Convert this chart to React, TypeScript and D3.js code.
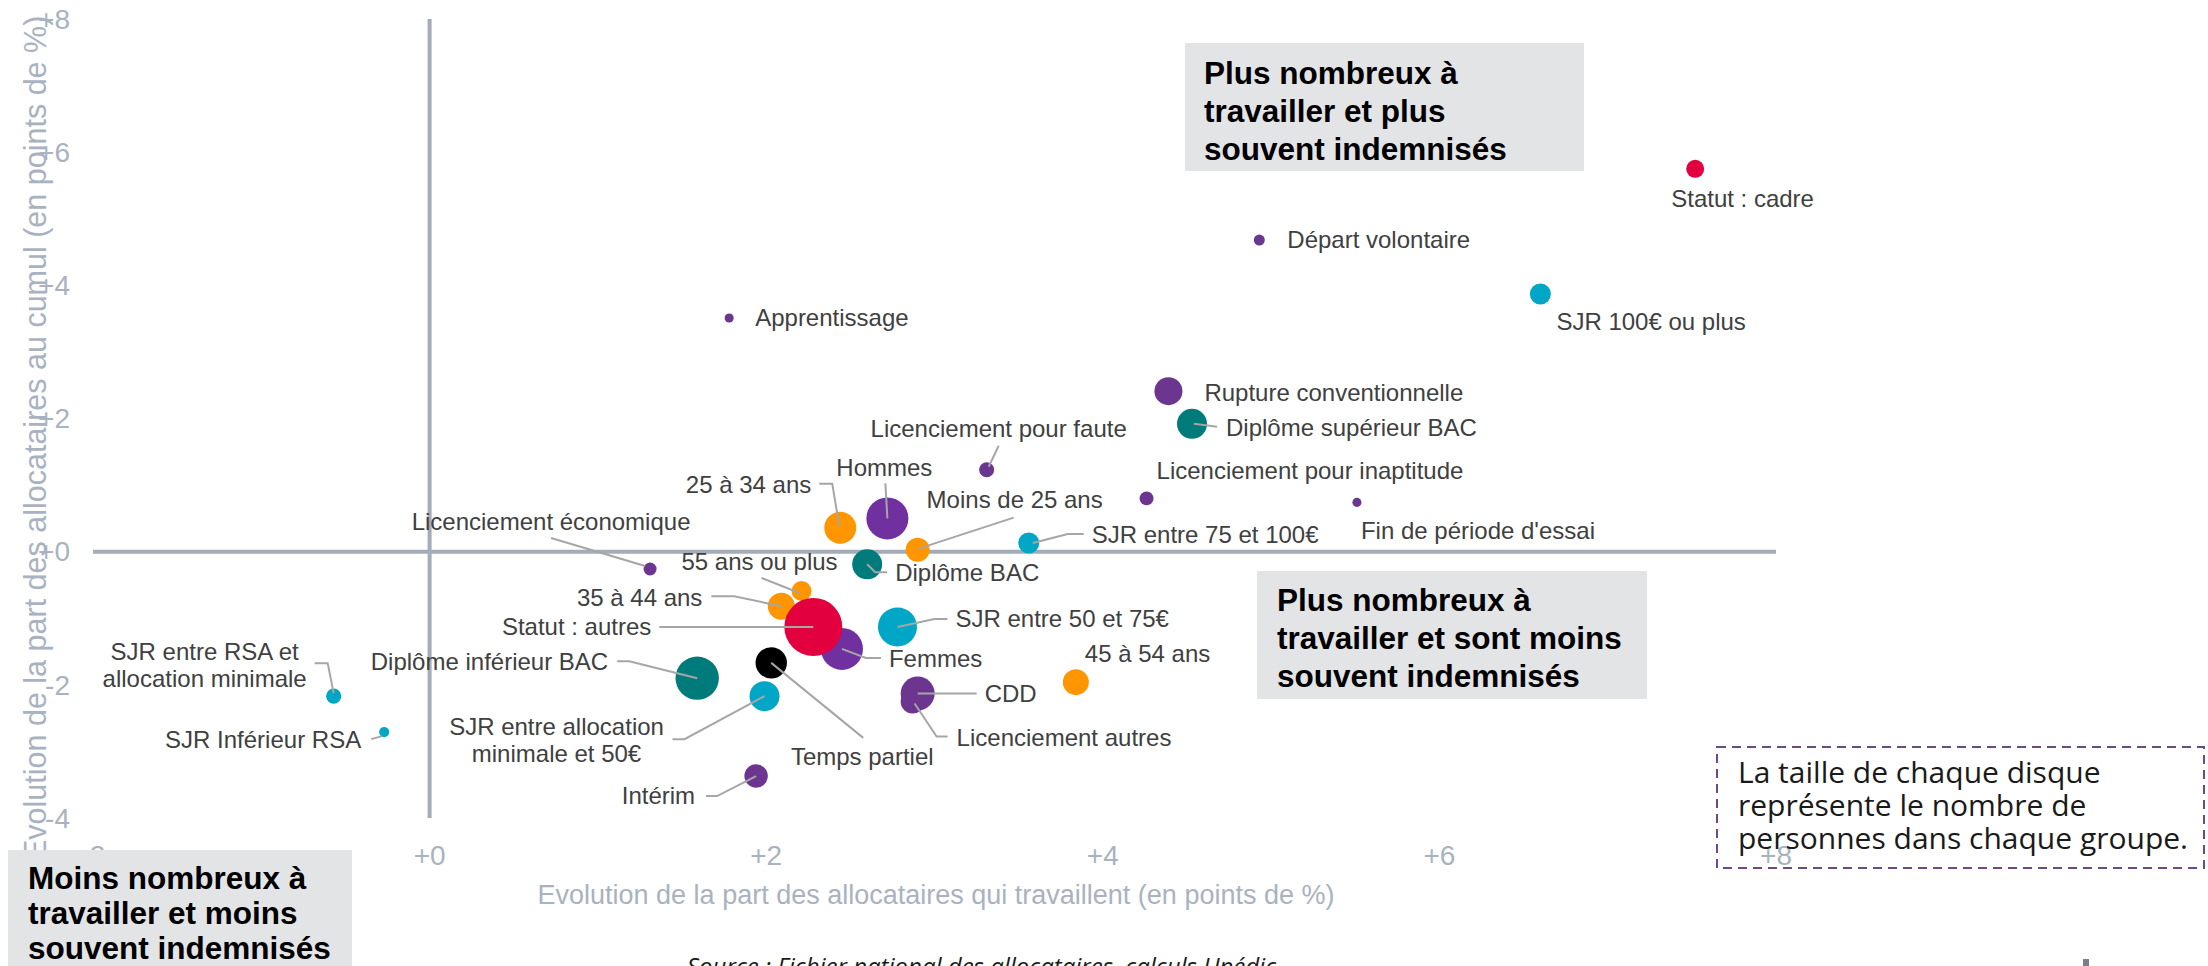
import React from "react";
import * as d3 from "d3";

// ---- Data ----
const categories = [
  "Statut : cadre",
  "Départ volontaire",
  "SJR 100€ ou plus",
  "Apprentissage",
  "Rupture conventionnelle",
  "Diplôme supérieur BAC",
  "Licenciement pour faute",
  "Licenciement pour inaptitude",
  "Fin de période d'essai",
  "Hommes",
  "25 à 34 ans",
  "Moins de 25 ans",
  "SJR entre 75 et 100€",
  "Diplôme BAC",
  "Licenciement économique",
  "55 ans ou plus",
  "35 à 44 ans",
  "Femmes",
  "Statut : autres",
  "SJR entre 50 et 75€",
  "45 à 54 ans",
  "Licenciement autres",
  "CDD",
  "Diplôme inférieur BAC",
  "Temps partiel",
  "SJR entre allocation minimale et 50€",
  "SJR entre RSA et allocation minimale",
  "SJR Inférieur RSA",
  "Intérim",
];

// Evolution de la part des allocataires qui travaillent (points de %)
const evolTravail = [
  7.52, 4.93, 6.6, 1.78, 4.39, 4.53, 3.31, 4.26, 5.51, 2.72, 2.44, 2.9, 3.56, 2.6,
  1.31, 2.21, 2.09, 2.45, 2.28, 2.78, 3.84, 2.87, 2.9, 1.59, 2.03, 1.99, -0.57, -0.27, 1.94,
];

// Evolution de la part des allocataires au cumul (points de %)
const evolCumul = [
  5.75, 4.68, 3.87, 3.51, 2.41, 1.92, 1.23, 0.8, 0.74, 0.5, 0.36, 0.03, 0.13, -0.19,
  -0.26, -0.59, -0.82, -1.46, -1.13, -1.13, -1.96, -2.25, -2.13, -1.9, -1.67, -2.17, -2.17, -2.71, -3.37,
];

// Relative size of each group (disc area)
const effectifs = [
  9.0, 3.4, 12.3, 2.3, 21.8, 25, 6.3, 5.4, 2.3, 49, 28.4, 16, 12.3, 25,
  4.7, 11.1, 20.3, 49, 93.4, 42.3, 18.8, 16, 32.1, 52.3, 27.4, 25, 6.3, 2.8, 15.2,
];

const groupes = [
  "Statut", "Motif", "SJR", "Motif", "Motif", "Diplôme", "Motif", "Motif", "Motif", "Sexe",
  "Age", "Age", "SJR", "Diplôme", "Motif", "Age", "Age", "Sexe", "Statut", "SJR",
  "Age", "Motif", "Motif", "Diplôme", "Temps", "SJR", "SJR", "SJR", "Motif",
];

const xTicks = [-2, 0, 2, 4, 6, 8];
const yTicks = [-4, -2, 0, 2, 4, 6, 8];

const xTitle = "Evolution de la part des allocataires qui travaillent (en points de %)";
const yTitle = "Evolution de la part des allocataires au cumul (en points de %)";
const quadrantTopRight = ["Plus nombreux à", "travailler et plus", "souvent indemnisés"];
const quadrantBottomRight = ["Plus nombreux à", "travailler et sont moins", "souvent indemnisés"];
const quadrantBottomLeft = ["Moins nombreux à", "travailler et moins", "souvent indemnisés"];
const noteLines = ["La taille de chaque disque", "représente le nombre de", "personnes dans chaque groupe."];
const sourceText = "Source : Fichier national des allocataires, calculs Unédic";

// ---- Styles ----
const groupColors: Record<string, string> = {
  Statut: "#e3003f",
  Motif: "#6b3590",
  Sexe: "#7030a0",
  Age: "#ff9600",
  "Diplôme": "#007b7c",
  SJR: "#00a6c6",
  Temps: "#000000",
};

type LabelLayout = {
  anchor: "start" | "middle" | "end";
  dx: number;
  dy: number;
  lines?: string[];
  leader?: [number, number][];
};

const labelLayout: Record<string, LabelLayout> = {
  "Statut : cadre": { anchor: "start", dx: -24, dy: 30 },
  "Départ volontaire": { anchor: "start", dx: 28, dy: 0 },
  "SJR 100€ ou plus": { anchor: "start", dx: 16, dy: 28 },
  Apprentissage: { anchor: "start", dx: 26, dy: 0 },
  "Rupture conventionnelle": { anchor: "start", dx: 36, dy: 1 },
  "Diplôme supérieur BAC": { anchor: "start", dx: 34, dy: 4, leader: [[2, 0], [25, 3]] },
  "Licenciement pour faute": { anchor: "middle", dx: 12, dy: -41, leader: [[12, -24], [2, -3]] },
  "Licenciement pour inaptitude": { anchor: "start", dx: 10, dy: -28 },
  "Fin de période d'essai": { anchor: "start", dx: 4, dy: 28 },
  Hommes: { anchor: "middle", dx: -3, dy: -51, leader: [[-2, -35], [0, 0]] },
  "25 à 34 ans": { anchor: "end", dx: -29, dy: -43, leader: [[-21, -44], [-8, -44], [-1, -2]] },
  "Moins de 25 ans": { anchor: "middle", dx: 97, dy: -50, leader: [[96, -32], [1, -1]] },
  "SJR entre 75 et 100€": { anchor: "start", dx: 63, dy: -8, leader: [[4, 0], [39, -9], [55, -9]] },
  "Diplôme BAC": { anchor: "start", dx: 28, dy: 8, leader: [[0, 0], [8, 8], [20, 8]] },
  "Licenciement économique": { anchor: "middle", dx: -99, dy: -47, leader: [[-99, -31], [-5, -3]] },
  "55 ans ou plus": { anchor: "middle", dx: -42, dy: -29, leader: [[-40, -13], [-2, 2]] },
  "35 à 44 ans": { anchor: "end", dx: -79, dy: -9, leader: [[-70, -10], [-47, -10], [0, 0]] },
  "Statut : autres": { anchor: "end", dx: -162, dy: 0, leader: [[-154, 0], [0, 0]] },
  "SJR entre 50 et 75€": { anchor: "start", dx: 58, dy: -8, leader: [[0, 0], [37, -8], [50, -8]] },
  Femmes: { anchor: "start", dx: 47, dy: 10, leader: [[0, 0], [24, 9], [39, 9]] },
  "45 à 54 ans": { anchor: "start", dx: 9, dy: -29 },
  CDD: { anchor: "start", dx: 67, dy: 0, leader: [[0, 0], [59, 0]] },
  "Licenciement autres": { anchor: "start", dx: 44, dy: 36, leader: [[2, 2], [24, 35], [35, 35]] },
  "Diplôme inférieur BAC": { anchor: "end", dx: -89, dy: -17, leader: [[-80, -17], [-68, -17], [0, 0]] },
  "Temps partiel": { anchor: "middle", dx: 91, dy: 94, leader: [[0, 0], [92, 75]] },
  "SJR entre allocation minimale et 50€": {
    anchor: "middle", dx: -208, dy: 30, lines: ["SJR entre allocation", "minimale et 50€"],
    leader: [[-92, 43], [-80, 43], [0, 0]],
  },
  "SJR entre RSA et allocation minimale": {
    anchor: "middle", dx: -129, dy: -45, lines: ["SJR entre RSA et", "allocation minimale"],
    leader: [[-19, -33], [-6, -33], [0, -3]],
  },
  "SJR Inférieur RSA": { anchor: "end", dx: -23, dy: 7, leader: [[-13, 7], [-2, 4]] },
  "Intérim": { anchor: "end", dx: -61, dy: 20, leader: [[-50, 20], [-39, 20], [0, 0]] },
};

const W = 2208;
const H = 966;
const AXIS = "#a3acb9";
const TICK = "#a9b2c0";
const LEADER = "#a6a6a6";
const LABEL = "#404040";
const ARIAL = "'Liberation Sans', Arial, sans-serif";
const NOTE_FONT = "'Open Sans', 'Noto Sans', sans-serif";

const fmt = (v: number) => (v >= 0 ? "+" + v : String(v));

export default function App() {
  const x = d3.scaleLinear().domain([-2, 8]).range([93, 1776]);
  const y = d3.scaleLinear().domain([-4, 8]).range([818, 19]);
  const r = d3.scaleSqrt().domain([0, 100]).range([0, 30]);
  const line = d3.line();

  const points = categories.map((c, i) => ({
    name: c,
    cx: x(evolTravail[i]),
    cy: y(evolCumul[i]),
    r: r(effectifs[i]),
    color: groupColors[groupes[i]],
  }));

  return (
    <svg
      width={W}
      height={H}
      style={{ position: "absolute", left: 0, top: 0, background: "#fff" }}
      fontFamily={ARIAL}
    >
      <rect x={0} y={0} width={W} height={H} fill="#fff" />

      {/* Y axis title */}
      <text
        transform={`translate(46, 860) rotate(-90)`}
        fontSize={30.5}
        fill={TICK}
        textAnchor="start"
      >
        {yTitle}
      </text>

      {/* Y tick labels */}
      {yTicks.map((t) => (
        <text key={"y" + t} x={70} y={y(t)} dy="0.35em" textAnchor="end" fontSize={28} fill={TICK}>
          {fmt(t)}
        </text>
      ))}
      {/* X tick labels */}
      {xTicks.map((t) => (
        <text key={"x" + t} x={x(t)} y={865} textAnchor="middle" fontSize={28} fill={TICK}>
          {fmt(t)}
        </text>
      ))}
      {/* X axis title */}
      <text x={936} y={904} textAnchor="middle" fontSize={27} fill={TICK}>
        {xTitle}
      </text>

      {/* Zero lines */}
      <line x1={x(-2)} x2={x(8)} y1={y(0)} y2={y(0)} stroke={AXIS} strokeWidth={4} />
      <line x1={x(0)} x2={x(0)} y1={y(8)} y2={y(-4)} stroke={AXIS} strokeWidth={4} />

      {/* Quadrant boxes */}
      <rect x={1185} y={43} width={399} height={128} fill="#e3e4e6" />
      {quadrantTopRight.map((l, i) => (
        <text key={"q1" + i} x={1204} y={84 + i * 38} fontSize={31.5} fontWeight="bold" fill="#000">
          {l}
        </text>
      ))}
      <rect x={1257} y={571} width={390} height={128} fill="#e3e4e6" />
      {quadrantBottomRight.map((l, i) => (
        <text key={"q2" + i} x={1277} y={611 + i * 38} fontSize={31.5} fontWeight="bold" fill="#000">
          {l}
        </text>
      ))}

      {/* Discs */}
      {points.map((p) => (
        <circle key={p.name} cx={p.cx} cy={p.cy} r={p.r} fill={p.color} />
      ))}

      {/* Leader lines */}
      {points.map((p) => {
        const L = labelLayout[p.name];
        if (!L || !L.leader) return null;
        const pts = L.leader.map(([dx, dy]) => [p.cx + dx, p.cy + dy] as [number, number]);
        return <path key={"l" + p.name} d={line(pts) || ""} fill="none" stroke={LEADER} strokeWidth={2} />;
      })}

      {/* Labels */}
      {points.map((p) => {
        const L = labelLayout[p.name];
        const lines = L.lines || [p.name];
        return (
          <text
            key={"t" + p.name}
            x={p.cx + L.dx}
            y={p.cy + L.dy}
            textAnchor={L.anchor}
            fontSize={24}
            fill={LABEL}
          >
            {lines.map((ln, i) => (
              <tspan key={i} x={p.cx + L.dx} dy={i === 0 ? "0.35em" : 27}>
                {ln}
              </tspan>
            ))}
          </text>
        );
      })}

      {/* Bottom-left quadrant box (over the -2 tick) */}
      <rect x={8} y={850} width={344} height={130} fill="#e3e4e6" />
      {quadrantBottomLeft.map((l, i) => (
        <text key={"q3" + i} x={28} y={889 + i * 35} fontSize={31.5} fontWeight="bold" fill="#000">
          {l}
        </text>
      ))}

      {/* Note box */}
      <rect
        x={1717}
        y={747}
        width={487}
        height={121}
        fill="none"
        stroke="#6b4a86"
        strokeWidth={2}
        strokeDasharray="9 6"
      />
      {noteLines.map((l, i) => (
        <text key={"n" + i} x={1738} y={783 + i * 33} fontSize={30} fill="#1a1a1a" fontFamily={NOTE_FONT}>
          {l}
        </text>
      ))}

      {/* Source */}
      <text x={687} y={975} fontSize={24} fontStyle="italic" fill="#1a1a1a" fontFamily={NOTE_FONT}>
        {sourceText}
      </text>

      {/* logo fragment */}
      <rect x={2083} y={959} width={6} height={7} fill="#7a808c" />
    </svg>
  );
}
